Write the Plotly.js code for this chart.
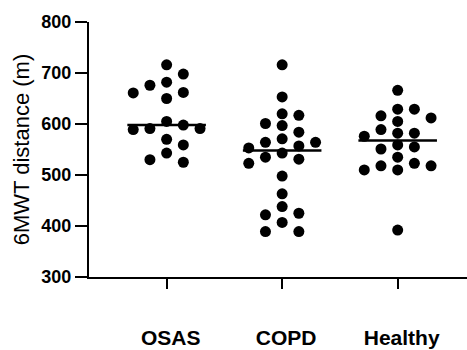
<!DOCTYPE html>
<html>
<head>
<meta charset="utf-8">
<script src="https://cdn.plot.ly/plotly-3.0.1.min.js"></script>
<style>
html,body{margin:0;padding:0;background:#fff;}
#chart{width:467px;height:350px;}
</style>
</head>
<body>
<div id="chart"></div>
<script>
// ---- data (6MWT distance, m) ----
const categories = ["OSAS", "COPD", "Healthy"];
const osas = [716, 698, 682, 676, 662, 661, 650, 605, 598, 591, 591, 589, 570, 559, 543, 530, 525];
const copd = [716, 653, 620, 617, 601, 597, 584, 571, 564, 564, 557, 553, 543, 535, 531, 523, 498, 463, 438, 425, 422, 407, 389, 389];
const healthy = [666, 629, 629, 616, 612, 605, 589, 582, 582, 576, 559, 555, 551, 535, 523, 518, 518, 510, 510, 392];
const groups = [osas, copd, healthy];
const yTicks = [300, 400, 500, 600, 700, 800];

// ---- layout geometry ----
const W = 467, H = 350;
const M = {l: 89, r: 0, t: 22, b: 73};
const yRange = [300, 800];
const xRange = [-0.672, 2.6];
const plotW = W - M.l - M.r, plotH = H - M.t - M.b;
const pxPerY = plotH / (yRange[1] - yRange[0]);
const pxPerX = plotW / (xRange[1] - xRange[0]);
const slotPx = 16.7, minSepPx = 11;

function median(a) {
  const s = a.slice().sort((p, q) => p - q);
  const n = s.length;
  return n % 2 ? s[(n - 1) / 2] : (s[n / 2 - 1] + s[n / 2]) / 2;
}

// simple column beeswarm: each point goes into the nearest free column slot
function swarm(vals) {
  const order = vals.map((v, i) => i).sort((a, b) => vals[b] - vals[a]);
  const slots = {};
  const res = new Array(vals.length);
  let balance = 0;
  for (const i of order) {
    let done = false;
    for (let k = 0; k < 30 && !done; k++) {
      const cands = k === 0 ? [0] : (balance > 0 ? [-k, k] : [k, -k]);
      for (const s of cands) {
        const arr = slots[s] || [];
        if (arr.every(y => Math.abs(y - vals[i]) * pxPerY >= minSepPx)) {
          arr.push(vals[i]); slots[s] = arr; res[i] = s; balance += Math.sign(s); done = true; break;
        }
      }
    }
  }
  return res;
}

const traces = [];
groups.forEach((vals, g) => {
  const slots = swarm(vals);
  traces.push({
    type: "scatter", mode: "markers",
    x: slots.map(s => g + s * slotPx / pxPerX),
    y: vals,
    marker: {color: "#000", size: 11, line: {width: 0}},
    hoverinfo: "skip", showlegend: false, cliponaxis: false
  });
});
groups.forEach((vals, g) => {
  const m = median(vals);
  const half = 0.34;
  traces.push({
    type: "scatter", mode: "lines",
    x: [g - half, g + half], y: [m, m],
    line: {color: "#000", width: 2.5},
    hoverinfo: "skip", showlegend: false
  });
});

const FF = "Liberation Sans, Arial, sans-serif";
const layout = {
  width: W, height: H,
  margin: M,
  paper_bgcolor: "#fff", plot_bgcolor: "#fff",
  font: {family: FF, color: "#000"},
  showlegend: false,
  xaxis: {
    range: xRange, fixedrange: true,
    tickmode: "array", tickvals: categories.map((c, i) => i), ticktext: categories,
    ticks: "outside", ticklen: 10, tickwidth: 2, tickcolor: "#000",
    showline: true, linewidth: 2, linecolor: "#000",
    showgrid: false, zeroline: false,
    tickfont: {family: FF, size: 21, weight: "bold", color: "#000"},
    ticklabelstandoff: 31,
    ticklabelshift: 4
  },
  yaxis: {
    range: yRange, fixedrange: true,
    tickmode: "array", tickvals: yTicks, ticktext: yTicks.map(String),
    ticks: "outside", ticklen: 12, tickwidth: 2, tickcolor: "#000",
    showline: true, linewidth: 2, linecolor: "#000",
    showgrid: false, zeroline: false,
    tickfont: {family: FF, size: 18, weight: "bold", color: "#000"},
    title: {text: "6MWT distance (m)", font: {family: FF, size: 22, color: "#000"}, standoff: 6}
  }
};

Plotly.newPlot("chart", traces, layout, {displayModeBar: false, staticPlot: true});
</script>
</body>
</html>
